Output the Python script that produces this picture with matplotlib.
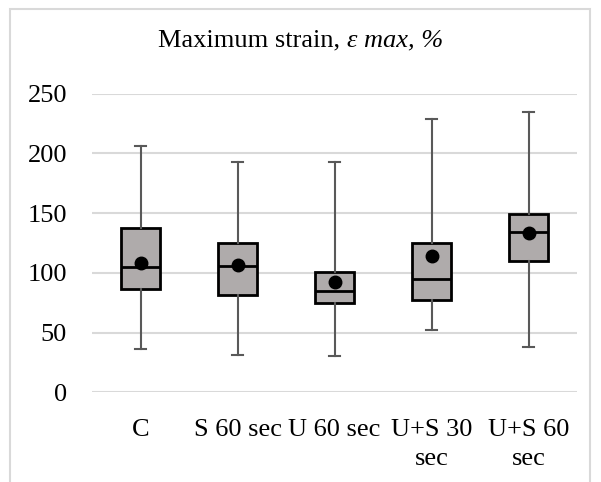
import matplotlib.pyplot as plt
from matplotlib.patches import Rectangle

plt.rcParams['font.family'] = ['Liberation Serif', 'DejaVu Serif']

groups = ['C', 'S 60 sec', 'U 60 sec', 'U+S 30\nsec', 'U+S 60\nsec']
whisk_lo = [36.2, 31.0, 30.6, 51.9, 37.9]
q1 = [86.4, 81.7, 74.5, 77.0, 110.1]
median = [104.6, 105.7, 85.0, 94.8, 134.4]
q3 = [137.7, 125.0, 100.4, 125.2, 149.0]
whisk_hi = [206.0, 192.5, 192.5, 229.0, 234.3]
mean = [108.0, 106.3, 92.3, 114.3, 133.0]

stats = []
for i in range(len(groups)):
    stats.append(dict(whislo=whisk_lo[i], q1=q1[i], med=median[i], q3=q3[i],
                      whishi=whisk_hi[i], mean=mean[i], fliers=[],
                      label=groups[i]))

fig = plt.figure(figsize=(6.01, 4.82), dpi=100)
ax = fig.add_axes([92/601, 1 - 392.3/482, (577 - 92)/601, (392.3 - 93.5)/482])

# frame round the whole chart
fig.patches.append(Rectangle((10/601, -0.1), 580/601, 1.1 - 9/482,
                             transform=fig.transFigure, fill=False,
                             edgecolor='#d9d9d9', linewidth=1.5))

pos = list(range(1, len(groups) + 1))
ax.bxp(stats, positions=pos, widths=0.4, patch_artist=True, showmeans=True,
       boxprops=dict(facecolor='#afabab', edgecolor='black', linewidth=2),
       medianprops=dict(color='black', linewidth=2),
       whiskerprops=dict(color='#595959', linewidth=1.5),
       capprops=dict(color='#595959', linewidth=1.5),
       capwidths=0.11,
       meanprops=dict(marker='o', markerfacecolor='black', markeredgecolor='black',
                      markersize=9),
       zorder=3)

ax.set_xlim(0.5, len(groups) + 0.5)
ax.set_ylim(0, 250)
ax.set_yticks(range(0, 251, 50))
ax.yaxis.grid(True, color='#d9d9d9', linewidth=1.5)
ax.set_axisbelow(True)
for s in ax.spines.values():
    s.set_visible(False)
ax.tick_params(axis='both', length=0, labelsize=19)
ax.tick_params(axis='y', pad=18)
ax.tick_params(axis='x', pad=19)
ax.set_xticklabels(groups, linespacing=1.45)

# title: plain part + italic part, centred together
ty = 1 - 40/482
t1 = fig.text(0.5, ty, 'Maximum strain, ', ha='left', va='center', fontsize=19)
t2 = fig.text(0.5, ty, 'ε max, %', ha='left', va='center',
              fontsize=19, style='italic')
r = fig.canvas.get_renderer()
w1 = t1.get_window_extent(r).width / fig.bbox.width
w2 = t2.get_window_extent(r).width / fig.bbox.width
x0 = 0.5 - (w1 + w2) / 2
t1.set_x(x0)
t2.set_x(x0 + w1)

fig.savefig('out.png', dpi=100)
